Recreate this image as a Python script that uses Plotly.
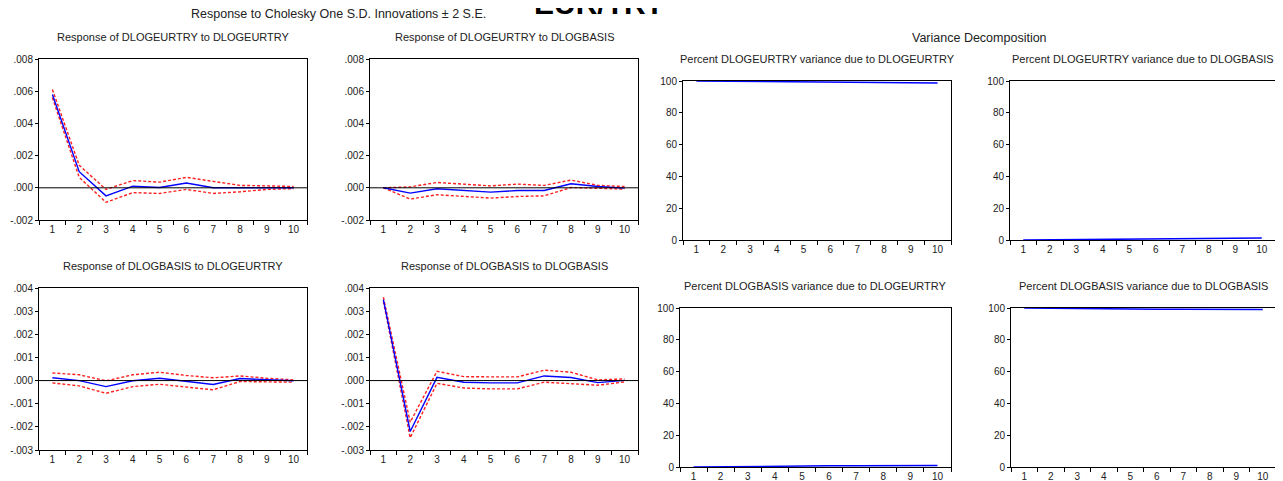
import plotly.graph_objects as go

# Page body has an 8px margin, so the figure is sized to the remaining area
OFF = 8
W, H = 1283 - OFF, 481 - OFF
FONT = "Arial, Liberation Sans, sans-serif"

periods = [1, 2, 3, 4, 5, 6, 7, 8, 9, 10]
period_labels = ["1", "2", "3", "4", "5", "6", "7", "8", "9", "10"]

# Impulse responses (point estimate, +2 S.E., -2 S.E.)
eur_eur = [0.0058, 0.0010, -0.0005, 0.0001, 0.00002, 0.0003, 0.0, 0.0, 0.00004, 0.0]
eur_eur_up = [0.0061, 0.0014, -0.0001, 0.00045, 0.00035, 0.00065, 0.0004, 0.00015, 0.00012, 0.00008]
eur_eur_lo = [0.0056, 0.00065, -0.0009, -0.0003, -0.00035, -0.0001, -0.00035, -0.00025, -0.0001, -0.00005]

eur_bas = [0.0, -0.00033, -0.00006, -0.00017, -0.00027, -0.00017, -0.00017, 0.00025, 0.00008, -0.00002]
eur_bas_up = [0.0, 0.00006, 0.00033, 0.00023, 0.00012, 0.00023, 0.00015, 0.00048, 0.00015, 0.00008]
eur_bas_lo = [0.0, -0.0007, -0.00043, -0.00054, -0.00064, -0.00054, -0.0005, 0.00002, -0.00002, -0.00008]

bas_eur = [0.00012, 0.0, -0.00026, -0.00001, 0.0001, -0.00004, -0.00017, 0.00009, 0.00003, -0.00001]
bas_eur_up = [0.00033, 0.00025, -0.00001, 0.00025, 0.00036, 0.00022, 0.00012, 0.0002, 0.0001, 0.00003]
bas_eur_lo = [-0.0001, -0.00023, -0.00055, -0.00026, -0.00016, -0.00029, -0.0004, -0.00004, -0.00006, -0.00007]

bas_bas = [0.0035, -0.0022, 0.00014, -0.00007, -0.0001, -0.0001, 0.0002, 0.00013, -0.00009, 0.00001]
bas_bas_up = [0.0036, -0.0018, 0.0004, 0.00017, 0.00016, 0.00016, 0.00045, 0.00036, 0.00003, 0.00007]
bas_bas_lo = [0.00342, -0.00247, -0.00012, -0.00032, -0.00036, -0.00036, -0.00007, -0.00012, -0.0002, -0.00006]

# Variance decomposition (percent)
vd_eur_eur = [100, 99.9, 99.8, 99.7, 99.6, 99.5, 99.4, 99.2, 99.0, 98.8]
vd_eur_bas = [0, 0.1, 0.2, 0.3, 0.4, 0.5, 0.6, 0.8, 1.0, 1.2]
vd_bas_eur = [0, 0.2, 0.6, 0.7, 0.7, 0.75, 0.8, 0.8, 0.85, 0.9]
vd_bas_bas = [100, 99.8, 99.4, 99.3, 99.3, 99.25, 99.2, 99.2, 99.15, 99.1]

irf_ticks_top = [-0.002, 0.0, 0.002, 0.004, 0.006, 0.008]
irf_labels_top = ["-.002", ".000", ".002", ".004", ".006", ".008"]
irf_ticks_bot = [-0.003, -0.002, -0.001, 0.0, 0.001, 0.002, 0.003, 0.004]
irf_labels_bot = ["-.003", "-.002", "-.001", ".000", ".001", ".002", ".003", ".004"]
vd_ticks = [0, 20, 40, 60, 80, 100]
vd_labels = ["0", "20", "40", "60", "80", "100"]

titles = [
    "Response of DLOGEURTRY to DLOGEURTRY",
    "Response of DLOGEURTRY to DLOGBASIS",
    "Response of DLOGBASIS to DLOGEURTRY",
    "Response of DLOGBASIS to DLOGBASIS",
    "Percent DLOGEURTRY variance due to DLOGEURTRY",
    "Percent DLOGEURTRY variance due to DLOGBASIS",
    "Percent DLOGBASIS variance due to DLOGEURTRY",
    "Percent DLOGBASIS variance due to DLOGBASIS",
]

# pixel boxes in screen coordinates: (left, right, top, bottom)
boxes = [
    (39, 307, 59, 220),
    (370, 638, 59, 220),
    (39, 307, 288, 450),
    (370, 638, 288, 450),
    (683, 951, 81, 240),
    (1010, 1275, 81, 240),
    (680, 951, 308, 467),
    (1011, 1276, 308, 467),
]


def px(x):
    return (x - OFF) / W


def py(y):
    return 1 - (y - OFF) / H


irf_sets = [
    (eur_eur, eur_eur_up, eur_eur_lo),
    (eur_bas, eur_bas_up, eur_bas_lo),
    (bas_eur, bas_eur_up, bas_eur_lo),
    (bas_bas, bas_bas_up, bas_bas_lo),
]
vd_sets = [vd_eur_eur, vd_eur_bas, vd_bas_eur, vd_bas_bas]

fig = go.Figure()
layout = {}
annotations = []
shapes = []
minor_vals = [p - 0.5 for p in periods] + [periods[-1] + 0.5]

for i, (l, r, t, b) in enumerate(boxes):
    n = i + 1
    xa = "x" if n == 1 else f"x{n}"
    ya = "y" if n == 1 else f"y{n}"
    xkey = "xaxis" if n == 1 else f"xaxis{n}"
    ykey = "yaxis" if n == 1 else f"yaxis{n}"
    if i < 4:
        est, up, lo = irf_sets[i]
        for series, color, dash in ((up, "#FF2020", "3px,2px"), (lo, "#FF2020", "3px,2px"), (est, "#0000FF", "solid")):
            fig.add_trace(go.Scatter(x=periods, y=series, mode="lines", xaxis=xa, yaxis=ya,
                                     line=dict(color=color, width=1.4, dash=dash),
                                     showlegend=False, hoverinfo="skip"))
        if i < 2:
            tv, tt, rng = irf_ticks_top, irf_labels_top, [-0.002, 0.008]
        else:
            tv, tt, rng = irf_ticks_bot, irf_labels_bot, [-0.003, 0.004]
        shapes.append(dict(type="line", xref=f"{xa} domain", yref=ya, x0=0, x1=1, y0=0, y1=0,
                           line=dict(color="black", width=1)))
    else:
        fig.add_trace(go.Scatter(x=periods, y=vd_sets[i - 4], mode="lines", xaxis=xa, yaxis=ya,
                                 line=dict(color="#0000FF", width=1.5),
                                 showlegend=False, hoverinfo="skip"))
        tv, tt, rng = vd_ticks, vd_labels, [0, 100]
    layout[xkey] = dict(
        domain=[px(l), px(r)], anchor=ya, range=[0.5, 10.5], automargin=False,
        tickvals=periods, ticktext=period_labels, ticks="",
        minor=dict(tickvals=minor_vals, ticks="outside", ticklen=4, tickcolor="black", tickwidth=1),
        showline=True, linecolor="black", linewidth=1, mirror=True, showgrid=False, zeroline=False,
        tickfont=dict(family=FONT, size=10, color="#222"),
    )
    layout[ykey] = dict(
        domain=[py(b), py(t)], anchor=xa, range=rng, automargin=False,
        tickvals=tv, ticktext=tt, ticks="outside", ticklen=3, tickcolor="black",
        showline=True, linecolor="black", linewidth=1, mirror=True, showgrid=False, zeroline=False,
        tickfont=dict(family=FONT, size=10, color="#222"),
    )
    annotations.append(dict(text=titles[i], xref="paper", yref="paper",
                            x=px((l + r) / 2), y=py(t - 22), xanchor="center", yanchor="middle",
                            showarrow=False, font=dict(family=FONT, size=11, color="#222")))

annotations.append(dict(text="<b>EUR/TRY</b>", xref="paper", yref="paper", x=px(599), y=py(3),
                        xanchor="center", yanchor="middle", showarrow=False,
                        font=dict(family=FONT, size=30, color="black")))
annotations.append(dict(text="Response to Cholesky One S.D. Innovations ± 2 S.E.", xref="paper", yref="paper",
                        x=px(338), y=py(14), xanchor="center", yanchor="middle", showarrow=False,
                        font=dict(family=FONT, size=12.5, color="#222")))
annotations.append(dict(text="Variance Decomposition", xref="paper", yref="paper",
                        x=px(979), y=py(38), xanchor="center", yanchor="middle", showarrow=False,
                        font=dict(family=FONT, size=12.5, color="#222")))

fig.update_layout(width=W, height=H, margin=dict(l=0, r=0, t=0, b=0),
                  paper_bgcolor="white", plot_bgcolor="white",
                  annotations=annotations, shapes=shapes, **layout)
fig.write_html("out.html")
